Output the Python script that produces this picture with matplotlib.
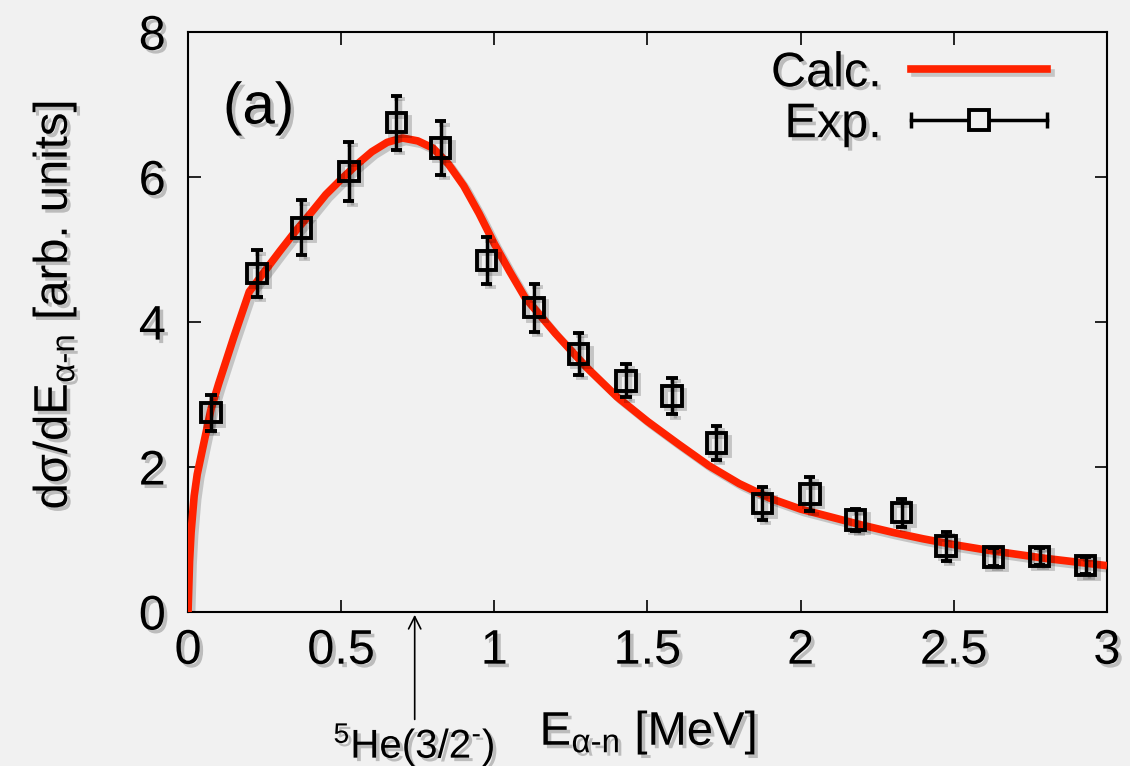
import matplotlib
matplotlib.use('Agg')
import matplotlib.pyplot as plt
import matplotlib.patheffects as pe
from matplotlib.lines import Line2D
from matplotlib.legend_handler import HandlerLine2D, HandlerTuple

# calculated curve
calc_x = [0.0, 0.005, 0.01, 0.02, 0.03, 0.05, 0.075, 0.1, 0.15, 0.2, 0.25, 0.3, 0.35, 0.4,
          0.45, 0.5, 0.55, 0.6, 0.65, 0.7, 0.75, 0.8, 0.85, 0.9, 0.95, 1.0, 1.05, 1.1,
          1.2, 1.3, 1.4, 1.5, 1.6, 1.7, 1.8, 1.9, 2.0, 2.1, 2.2, 2.3, 2.4, 2.5, 2.6,
          2.7, 2.8, 2.9, 3.0]
calc_y = [0.0, 0.7, 1.1, 1.6, 1.9, 2.3, 2.8, 3.15, 3.8, 4.42, 4.7, 4.98, 5.25, 5.5,
          5.76, 5.97, 6.17, 6.35, 6.48, 6.54, 6.5, 6.4, 6.18, 5.88, 5.5, 5.08, 4.7, 4.34,
          3.84, 3.38, 2.97, 2.63, 2.32, 2.02, 1.77, 1.57, 1.42, 1.31, 1.2, 1.1, 1.01, 0.93,
          0.86, 0.8, 0.74, 0.69, 0.64]

# experimental points
exp_x = [0.075, 0.225, 0.37, 0.525, 0.68, 0.825, 0.975, 1.13, 1.275, 1.43,
         1.58, 1.725, 1.875, 2.03, 2.18, 2.33, 2.475, 2.63, 2.78, 2.93]
exp_y = [2.75, 4.67, 5.30, 6.08, 6.75, 6.40, 4.85, 4.20, 3.56, 3.19,
         2.98, 2.33, 1.50, 1.63, 1.27, 1.37, 0.91, 0.76, 0.77, 0.64]
exp_err = [0.25, 0.32, 0.38, 0.41, 0.37, 0.37, 0.32, 0.33, 0.29, 0.23,
           0.25, 0.23, 0.23, 0.23, 0.15, 0.19, 0.2, 0.12, 0.12, 0.12]

bg = '#f1f1f1'
red = '#ff2200'
plt.rcParams['font.family'] = ['Liberation Sans', 'DejaVu Sans']
plt.rcParams['mathtext.fontset'] = 'custom'
plt.rcParams['mathtext.rm'] = 'Liberation Sans'
plt.rcParams['mathtext.it'] = 'Liberation Sans:italic'

shadow = [pe.SimplePatchShadow(offset=(2.5, -2.5), shadow_rgbFace='k', alpha=0.22), pe.Normal()]
lshadow = [pe.SimpleLineShadow(offset=(2.5, -2.5), shadow_color='k', alpha=0.18), pe.Normal()]

fig = plt.figure(figsize=(11.3, 7.66), dpi=100, facecolor=bg)
ax = fig.add_axes([0.1664, 0.201, 0.8132, 0.757], facecolor=bg)

ax.plot(calc_x, calc_y, color=red, lw=5.5, solid_capstyle='butt', solid_joinstyle='round',
        path_effects=lshadow, zorder=3)
eb = ax.errorbar(exp_x, exp_y, yerr=exp_err, fmt='s', ms=14, mfc='none', mec='k', mew=2.8,
                 ecolor='k', elinewidth=2.5, capsize=4, capthick=2.5, zorder=4)
for artist in [eb[0]] + list(eb[1]) + list(eb[2]):
    artist.set_path_effects(lshadow)

ax.set_xlim(0, 3)
ax.set_ylim(0, 8)
ax.set_xticks([0, 0.5, 1, 1.5, 2, 2.5, 3])
ax.set_xticklabels(['0', '0.5', '1', '1.5', '2', '2.5', '3'])
ax.set_yticks([0, 2, 4, 6, 8])
ax.tick_params(direction='in', length=9, width=1.2, top=True, right=True, labelsize=35)
ax.tick_params(axis='x', pad=12)
ax.tick_params(axis='y', pad=16)
for lab in ax.get_xticklabels() + ax.get_yticklabels():
    lab.set_path_effects(shadow)
for sp in ax.spines.values():
    sp.set_linewidth(1.5)

fig.text(55 / 1130, 1 - 305 / 766, r'dσ/dE$_{\mathrm{α\text{-}n}}$ [arb. units]',
         rotation=90, ha='center', va='center', fontsize=34, path_effects=shadow)
fig.text(648 / 1130, 1 - 745 / 766, r'E$_{\mathrm{α\text{-}n}}$ [MeV]',
         ha='center', va='baseline', fontsize=34, path_effects=shadow)
ax.text(0.038, 0.915, '(a)', transform=ax.transAxes, ha='left', va='top', fontsize=42,
        path_effects=shadow)

ax.annotate('', xy=(0.74, 0), xytext=(0.74, -0.19), xycoords=('data', 'axes fraction'),
            textcoords=('data', 'axes fraction'),
            arrowprops=dict(arrowstyle='->', color='k', lw=1.2, mutation_scale=22))
fig.text(414 / 1130, 1 - 758 / 766, r'$^{5}$He(3/2$^{\text{-}}$)', ha='center', va='baseline',
         fontsize=29, path_effects=shadow)

calc_h = Line2D([], [], color=red, lw=5.5, path_effects=lshadow)
exp_bar = Line2D([], [], color='k', lw=2.5, marker='|', ms=12, mew=2.5)
exp_box = Line2D([], [], ls='none', marker='s', ms=14, mfc=bg, mec='k', mew=2.8)
leg = ax.legend([calc_h, (exp_bar, exp_box)], ['Calc.', 'Exp.'], loc='upper right',
                bbox_to_anchor=(0.935, 0.967), frameon=False, markerfirst=False,
                fontsize=35, handlelength=2.8, handletextpad=0.6, labelspacing=0.12,
                borderpad=0, borderaxespad=0,
                handler_map={exp_bar: HandlerLine2D(numpoints=2, marker_pad=0),
                             tuple: HandlerTuple(ndivide=1, pad=0)})
for t in leg.get_texts():
    t.set_path_effects(shadow)

fig.savefig('out.png', dpi=100, facecolor=bg)
